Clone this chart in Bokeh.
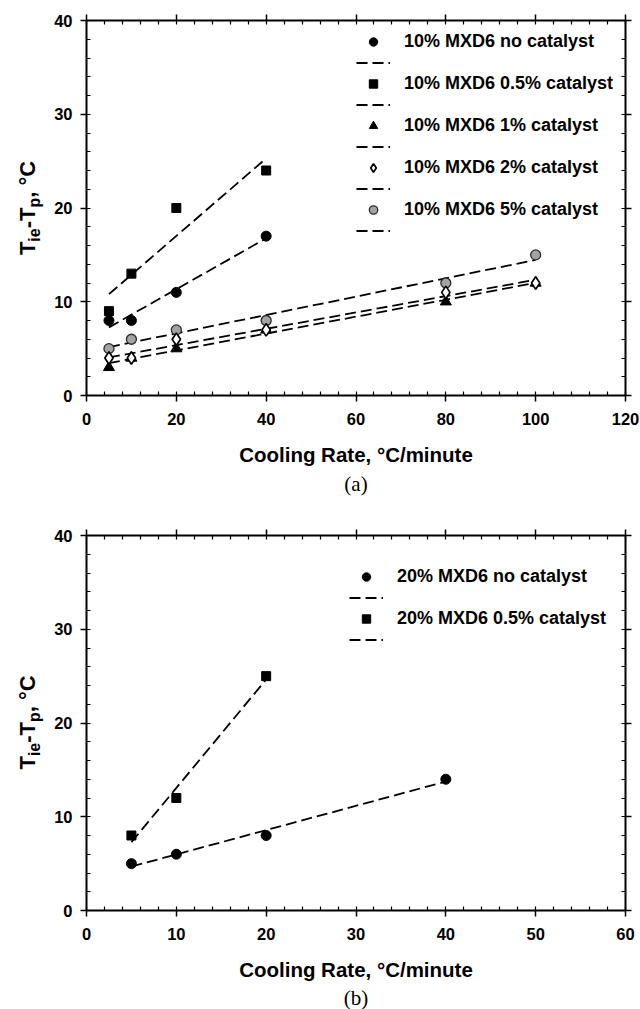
import math

import numpy as np
from bokeh.core.properties import value
from bokeh.embed import file_html
from bokeh.layouts import column, row
from bokeh.models import (CustomJSTickFormatter, Legend, LegendItem,
                          LinearAxis, Range1d, SingleIntervalTicker, Title)
from bokeh.plotting import figure
from bokeh.resources import INLINE

# ---- (a) 10% MXD6 blends: supercooling vs cooling rate ----
a_none_x = [5, 10, 20, 40]
a_none_y = [8, 8, 11, 17]
a_cat05_x = [5, 10, 20, 40]
a_cat05_y = [9, 13, 20, 24]
a_rate = [5, 10, 20, 40, 80, 100]
a_cat1_y = [3, 4, 5, 7, 10, 12]
a_cat2_y = [4, 4, 6, 7, 11, 12]
a_cat5_y = [5, 6, 7, 8, 12, 15]

# ---- (b) 20% MXD6 blends ----
b_none_x = [5, 10, 20, 40]
b_none_y = [5, 6, 8, 14]
b_cat05_x = [5, 10, 20]
b_cat05_y = [8, 12, 25]

labels_a = ["10% MXD6 no catalyst", "10% MXD6 0.5% catalyst", "10% MXD6 1% catalyst",
            "10% MXD6 2% catalyst", "10% MXD6 5% catalyst"]
labels_b = ["20% MXD6 no catalyst", "20% MXD6 0.5% catalyst"]

FONT = "Liberation Sans"
DASH = "11 5"
STRIP_W = 48          # width of the strip that carries the rotated y title
FRAME_LEFT = 86       # left edge of each plotting frame on the page

STYLE = {
    "none": dict(marker="circle", size=10, fill_color="black", line_color="black", line_width=1),
    "cat05": dict(marker="square", size=9, fill_color="black", line_color="black", line_width=1),
    "cat1": dict(marker="triangle", size=11, fill_color="black", line_color="black", line_width=1),
    "cat2": dict(marker="diamond", size=12.5, fill_color="white", line_color="black", line_width=1.7),
    "cat5": dict(marker="circle", size=10, fill_color="#a3a3a3", line_color="#2a2a2a", line_width=1.3),
}


def fit_line(xs, ys):
    """Least-squares straight line over the span of the measured rates."""
    k, b = np.polyfit(xs, ys, 1)
    xe = [min(xs), max(xs)]
    return xe, [k * x + b for x in xe]


def style_axis(ax, labelled):
    ax.axis_line_width = 2
    ax.axis_line_color = "black"
    ax.major_tick_in = 0
    ax.major_tick_out = 6
    ax.minor_tick_in = 4
    ax.minor_tick_out = 0
    ax.major_tick_line_width = 1.5
    ax.minor_tick_line_width = 1.2
    ax.major_tick_line_color = "black"
    ax.minor_tick_line_color = "black"
    if labelled:
        ax.major_label_text_font = FONT
        ax.major_label_text_font_style = "bold"
        ax.major_label_text_font_size = "16.5px"
        ax.major_label_text_color = "black"
    else:
        ax.formatter = CustomJSTickFormatter(code="return ''")
        ax.major_label_standoff = 0


# Arial-metric advance widths (em) used to lay out the mixed-size y title
ADV = {"T": .611, "i": .278, "e": .556, "-": .333, "p": .611, ",": .278,
       " ": .278, "°": .4, "C": .722}


def title_strip(top, frame_h, bottom):
    """Narrow strip, frame-aligned with its panel, holding the title T_ie-T_p, °C."""
    s = figure(width=STRIP_W, height=top + frame_h + bottom,
               x_range=Range1d(0, STRIP_W), y_range=Range1d(0, frame_h),
               x_axis_type=None, y_axis_type=None, title=None,
               output_backend="svg", toolbar_location=None,
               min_border_left=0, min_border_right=0,
               min_border_top=top, min_border_bottom=bottom,
               background_fill_color="white", border_fill_color="white")
    s.grid.visible = False
    s.outline_line_color = None
    main, sub = 22, 16
    parts = [("T", main), ("ie", sub), ("-T", main), ("p", sub), (", °C", main)]
    total = sum(sum(ADV[c] for c in t) * f for t, f in parts)
    pos = frame_h / 2 - total / 2
    for t, f in parts:
        s.text(x=[27 if f == main else 34], y=[pos], text=[t], angle=math.pi / 2,
               text_font=value(FONT), text_font_style="bold", text_font_size=value(f"{f}px"),
               text_color="black", text_align="left", text_baseline="alphabetic")
        pos += sum(ADV[c] for c in t) * f
    return s


def make_panel(x_max, x_step, frame_h, top, bottom, caption, cap_gap):
    p = figure(frame_width=539, frame_height=frame_h,
               x_range=Range1d(0, x_max), y_range=Range1d(0, 40),
               output_backend="svg", toolbar_location=None,
               min_border_left=FRAME_LEFT - STRIP_W, min_border_right=15,
               min_border_top=top, min_border_bottom=bottom,
               background_fill_color="white", border_fill_color="white")
    p.outline_line_color = None
    p.xgrid.visible = False
    p.ygrid.visible = False

    p.xaxis.ticker = SingleIntervalTicker(interval=x_step, num_minor_ticks=5)
    p.yaxis.ticker = SingleIntervalTicker(interval=10, num_minor_ticks=5)
    style_axis(p.xaxis[0], True)
    style_axis(p.yaxis[0], True)
    p.yaxis.major_label_standoff = 8
    p.xaxis.major_label_standoff = 11
    p.xaxis.axis_label = "Cooling Rate, °C/minute"
    p.xaxis.axis_label_text_font = FONT
    p.xaxis.axis_label_text_font_style = "bold"
    p.xaxis.axis_label_text_font_size = "20.5px"
    p.xaxis.axis_label_text_color = "black"
    p.xaxis.axis_label_standoff = 15

    ra = LinearAxis(ticker=SingleIntervalTicker(interval=10, num_minor_ticks=5))
    style_axis(ra, False)
    p.add_layout(ra, "right")
    ta = LinearAxis(ticker=SingleIntervalTicker(interval=x_step, num_minor_ticks=5))
    style_axis(ta, False)
    p.add_layout(ta, "above")

    p.add_layout(Title(text=caption, align="center", text_font="Liberation Serif",
                       text_font_style="normal", text_font_size="21px",
                       text_color="black", standoff=cap_gap), "below")
    return p


def add_series(p, xs, ys, key):
    xe, ye = fit_line(xs, ys)
    lr = p.line(xe, ye, line_color="black", line_width=1.8, line_dash=DASH)
    sr = p.scatter(xs, ys, **STYLE[key])
    return sr, lr


def add_legend(p, entries, loc):
    items = []
    for name, (sr, lr) in entries:
        items.append(LegendItem(label=value(name), renderers=[sr]))
        items.append(LegendItem(label=value(" "), renderers=[lr]))
    lg = Legend(items=items, location=loc, glyph_width=34, glyph_height=21,
                label_height=21, spacing=0, padding=0, margin=0, label_standoff=14,
                label_text_font=FONT, label_text_font_style="bold",
                label_text_font_size="18px", label_text_color="black",
                border_line_color=None, background_fill_alpha=0)
    p.add_layout(lg)


# Panel (a)
TOP_A, FRAME_A, BOT_A = 20, 375, 105
pa = make_panel(120, 20, FRAME_A, TOP_A, BOT_A, "(a)", 3)
ra_none = add_series(pa, a_none_x, a_none_y, "none")
ra_05 = add_series(pa, a_cat05_x, a_cat05_y, "cat05")
ra_5 = add_series(pa, a_rate, a_cat5_y, "cat5")
ra_1 = add_series(pa, a_rate, a_cat1_y, "cat1")
ra_2 = add_series(pa, a_rate, a_cat2_y, "cat2")
add_legend(pa, list(zip(labels_a, [ra_none, ra_05, ra_1, ra_2, ra_5])), (270, 154))

# Panel (b)
TOP_B, FRAME_B, BOT_B = 35, 375, 98
pb = make_panel(60, 10, FRAME_B, TOP_B, BOT_B, "(b)", 0)
rb_none = add_series(pb, b_none_x, b_none_y, "none")
rb_05 = add_series(pb, b_cat05_x, b_cat05_y, "cat05")
add_legend(pb, list(zip(labels_b, [rb_none, rb_05])), (263, 260))

strip_a = title_strip(TOP_A, FRAME_A, BOT_A)
strip_b = title_strip(TOP_B, FRAME_B, BOT_B)

layout = column(row(strip_a, pa, spacing=0), row(strip_b, pb, spacing=0), spacing=0)
open("out.html", "w").write(file_html(layout, INLINE))
